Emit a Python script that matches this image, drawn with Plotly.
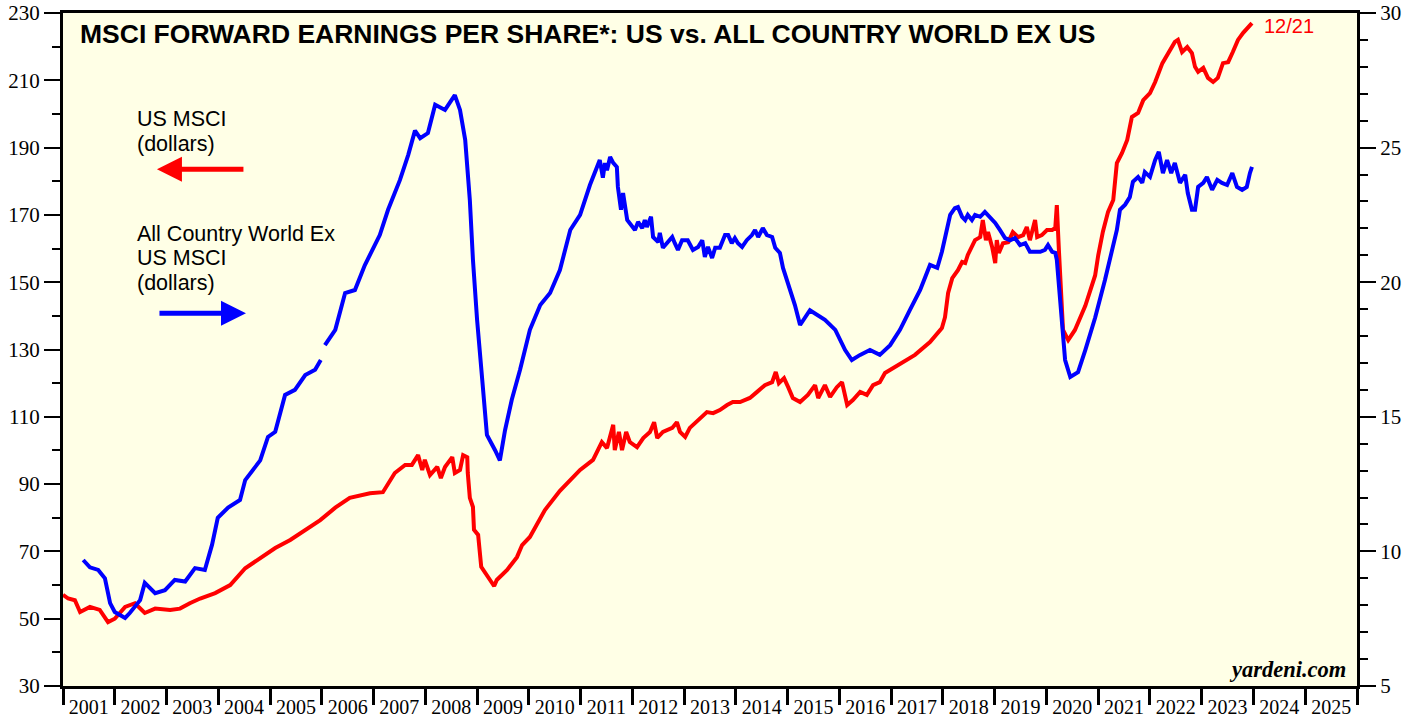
import datetime as dt
import plotly.graph_objects as go

# US MSCI forward EPS (left axis, dollars): decimal year / value
us_year = [2001.00, 2001.10, 2001.23, 2001.33, 2001.52, 2001.71, 2001.87, 2002.00, 2002.20, 2002.39,
           2002.58, 2002.78, 2003.07, 2003.26, 2003.45, 2003.65, 2003.94, 2004.23, 2004.52, 2004.81,
           2005.10, 2005.39, 2005.68, 2005.97, 2006.26, 2006.54, 2006.93, 2007.18, 2007.41, 2007.61,
           2007.74, 2007.86, 2007.94, 2007.99, 2008.09, 2008.23, 2008.30, 2008.38, 2008.52, 2008.57,
           2008.67, 2008.73, 2008.81, 2008.82, 2008.86, 2008.92, 2008.94, 2009.02, 2009.08, 2009.15,
           2009.25, 2009.33, 2009.38, 2009.58, 2009.77, 2009.87, 2010.02, 2010.31, 2010.60, 2010.99,
           2011.24, 2011.41, 2011.51, 2011.63, 2011.66, 2011.74, 2011.80, 2011.88, 2011.95, 2012.09,
           2012.21, 2012.34, 2012.42, 2012.48, 2012.59, 2012.77, 2012.86, 2012.92, 2013.02, 2013.11,
           2013.27, 2013.44, 2013.56, 2013.69, 2013.83, 2013.94, 2014.08, 2014.27, 2014.41, 2014.56,
           2014.70, 2014.77, 2014.83, 2014.93, 2015.01, 2015.10, 2015.24, 2015.39, 2015.53, 2015.59,
           2015.72, 2015.82, 2015.95, 2016.05, 2016.15, 2016.26, 2016.40, 2016.53, 2016.65, 2016.78,
           2016.88, 2017.04, 2017.17, 2017.46, 2017.75, 2017.98, 2018.04, 2018.10, 2018.18, 2018.23,
           2018.29, 2018.37, 2018.43, 2018.48, 2018.56, 2018.62, 2018.72, 2018.77, 2018.83, 2018.87,
           2018.95, 2019.01, 2019.04, 2019.08, 2019.16, 2019.26, 2019.35, 2019.45, 2019.55, 2019.62,
           2019.68, 2019.78, 2019.82, 2019.91, 2020.01, 2020.11, 2020.17, 2020.20, 2020.24, 2020.30,
           2020.32, 2020.42, 2020.55, 2020.75, 2020.94, 2021.00, 2021.09, 2021.19, 2021.29, 2021.36,
           2021.46, 2021.56, 2021.65, 2021.77, 2021.87, 2022.00, 2022.10, 2022.24, 2022.35, 2022.48,
           2022.54, 2022.62, 2022.72, 2022.81, 2022.87, 2022.93, 2023.03, 2023.12, 2023.22, 2023.31,
           2023.41, 2023.51, 2023.60, 2023.70, 2023.80, 2023.89, 2023.97]
us_eps = [57.1, 56.0, 55.5, 52.0, 53.5, 52.6, 49.0, 50.0, 53.5, 54.6,
          51.7, 53.0, 52.6, 53.0, 54.6, 56.0, 57.6, 60.0, 65.0, 68.0,
          71.0, 73.4, 76.4, 79.3, 83.0, 85.9, 87.3, 87.6, 93.3, 95.7,
          95.7, 98.6, 94.2, 97.2, 92.7, 95.1, 91.8, 95.1, 98.0, 93.3,
          94.2, 98.6, 98.0, 93.3, 85.9, 83.2, 76.4, 74.9, 65.4, 63.6,
          61.5, 59.7, 61.5, 64.5, 68.3, 71.9, 74.3, 82.3, 88.0, 94.2,
          97.2, 102.5, 100.7, 107.6, 100.1, 105.5, 100.1, 105.5, 102.5, 101.0,
          103.7, 105.5, 108.4, 103.7, 105.5, 106.7, 108.4, 105.5, 104.0, 106.7,
          109.0, 111.4, 111.1, 112.0, 113.5, 114.4, 114.4, 115.6, 117.4, 119.4,
          120.3, 123.3, 120.0, 121.5, 118.8, 115.6, 114.4, 116.5, 119.4, 115.6,
          119.4, 115.9, 118.8, 120.3, 113.5, 115.0, 117.4, 116.5, 119.4, 120.3,
          123.0, 124.5, 125.4, 128.4, 132.2, 136.4, 139.6, 146.8, 151.2, 152.1,
          153.6, 156.0, 155.7, 158.1, 160.5, 162.5, 163.4, 168.5, 162.5, 164.9,
          160.5, 155.7, 162.5, 158.7, 161.6, 161.9, 164.9, 163.4, 164.0, 166.4,
          162.5, 168.5, 163.4, 164.0, 165.5, 165.5, 166.1, 172.9, 159.6, 144.7,
          135.8, 132.8, 135.8, 143.0, 152.0, 158.0, 165.0, 170.9, 174.4, 185.4,
          188.4, 192.3, 199.1, 200.3, 204.1, 206.2, 209.5, 215.1, 218.1, 221.4,
          222.0, 218.4, 219.9, 218.1, 214.0, 212.5, 213.7, 210.7, 209.5, 210.7,
          215.1, 215.4, 218.4, 222.0, 224.1, 225.5, 227.0]

# All Country World ex US MSCI forward EPS (right axis, dollars); None = data gap
acwx_year = [2001.39, 2001.52, 2001.68, 2001.81, 2001.91, 2002.00, 2002.20, 2002.29, 2002.49, 2002.58,
             2002.78, 2002.97, 2003.16, 2003.36, 2003.55, 2003.74, 2003.88, 2003.99, 2004.19, 2004.42,
             2004.52, 2004.81, 2004.96, 2005.10, 2005.29, 2005.48, 2005.68, 2005.87, 2005.98, 2006.02,
             2006.06, 2006.26, 2006.45, 2006.64, 2006.83, 2006.97, 2007.12, 2007.28, 2007.51, 2007.67,
             2007.80, 2007.90, 2008.05, 2008.19, 2008.38, 2008.57, 2008.67, 2008.77, 2008.86, 2008.92,
             2009.00, 2009.10, 2009.19, 2009.35, 2009.44, 2009.54, 2009.67, 2009.83, 2010.02, 2010.22,
             2010.41, 2010.60, 2010.80, 2010.99, 2011.18, 2011.37, 2011.43, 2011.47, 2011.51, 2011.57,
             2011.63, 2011.70, 2011.72, 2011.78, 2011.82, 2011.90, 2011.99, 2012.05, 2012.11, 2012.19,
             2012.24, 2012.28, 2012.36, 2012.40, 2012.50, 2012.53, 2012.59, 2012.67, 2012.77, 2012.82,
             2012.88, 2012.96, 2013.07, 2013.17, 2013.27, 2013.35, 2013.40, 2013.46, 2013.54, 2013.60,
             2013.69, 2013.79, 2013.85, 2013.92, 2013.98, 2014.04, 2014.12, 2014.21, 2014.31, 2014.37,
             2014.43, 2014.52, 2014.60, 2014.70, 2014.76, 2014.85, 2014.91, 2015.14, 2015.24, 2015.43,
             2015.72, 2015.92, 2016.11, 2016.24, 2016.40, 2016.59, 2016.78, 2016.98, 2017.17, 2017.36,
             2017.56, 2017.75, 2017.89, 2017.98, 2018.08, 2018.14, 2018.23, 2018.29, 2018.37, 2018.43,
             2018.48, 2018.56, 2018.62, 2018.72, 2018.81, 2018.91, 2019.01, 2019.10, 2019.20, 2019.30,
             2019.39, 2019.49, 2019.59, 2019.68, 2019.78, 2019.88, 2019.97, 2020.03, 2020.11, 2020.17,
             2020.20, 2020.26, 2020.36, 2020.46, 2020.61, 2020.75, 2020.94, 2021.13, 2021.36, 2021.42,
             2021.52, 2021.61, 2021.67, 2021.77, 2021.85, 2021.90, 2022.00, 2022.10, 2022.17, 2022.25,
             2022.33, 2022.41, 2022.48, 2022.58, 2022.68, 2022.73, 2022.81, 2022.87, 2022.93, 2023.03,
             2023.10, 2023.20, 2023.30, 2023.39, 2023.49, 2023.59, 2023.68, 2023.78, 2023.87, 2023.93,
             2023.97]
acwx_eps = [9.68, 9.41, 9.31, 9.00, 8.08, 7.75, 7.53, 7.71, 8.19, 8.83,
            8.45, 8.56, 8.94, 8.88, 9.38, 9.31, 10.25, 11.25, 11.63, 11.91,
            12.65, 13.38, 14.25, 14.44, 15.81, 16.00, 16.55, 16.75, 17.11, None,
            17.66, 18.23, 19.60, 19.71, 20.63, 21.20, 21.75, 22.69, 23.80, 24.73,
            25.63, 25.35, 25.54, 26.59, 26.40, 26.95, 26.40, 25.29, 23.05, 20.83,
            18.60, 16.36, 14.33, 13.75, 13.38, 14.50, 15.63, 16.75, 18.23, 19.15,
            19.60, 20.45, 21.94, 22.50, 23.61, 24.54, 23.88, 24.43, 24.16, 24.65,
            24.43, 24.28, 23.54, 22.69, 23.31, 22.31, 22.05, 21.94, 22.24, 22.01,
            22.31, 22.05, 22.43, 21.68, 21.49, 21.83, 21.28, 21.45, 21.68, 21.45,
            21.20, 21.56, 21.56, 21.20, 21.31, 21.56, 20.94, 21.31, 20.90, 21.28,
            21.28, 21.75, 21.75, 21.45, 21.64, 21.45, 21.31, 21.56, 21.75, 21.94,
            21.68, 22.01, 21.75, 21.68, 21.28, 21.09, 20.53, 19.15, 18.41, 18.96,
            18.60, 18.23, 17.48, 17.11, 17.30, 17.48, 17.30, 17.66, 18.23, 18.96,
            19.71, 20.64, 20.53, 21.13, 22.05, 22.50, 22.75, 22.79, 22.43, 22.31,
            22.50, 22.31, 22.50, 22.43, 22.61, 22.39, 22.20, 21.94, 21.64, 21.56,
            21.64, 21.38, 21.45, 21.13, 21.13, 21.13, 21.20, 21.38, 21.13, 21.09,
            20.83, 19.34, 17.11, 16.48, 16.66, 17.48, 18.68, 20.08, 21.94, 22.69,
            22.88, 23.16, 23.73, 23.91, 23.69, 24.09, 23.91, 24.54, 24.84, 24.05,
            24.54, 24.05, 24.43, 23.69, 23.99, 23.31, 22.69, 22.69, 23.54, 23.69,
            23.91, 23.43, 23.80, 23.69, 23.61, 24.05, 23.54, 23.43, 23.54, 24.05,
            24.28]


def to_date(y):
    return dt.datetime(2001, 1, 1) + dt.timedelta(days=(y - 2001) * 365.25)


us_dates = [to_date(y) for y in us_year]
acwx_dates = [to_date(y) for y in acwx_year]

SERIF = "Liberation Serif, Times New Roman, serif"
SANS = "Liberation Sans, Arial, sans-serif"

fig = go.Figure()

fig.add_trace(go.Scatter(
    x=acwx_dates, y=acwx_eps, yaxis="y2", mode="lines",
    line=dict(color="#0000FF", width=4), connectgaps=False, showlegend=False
))
fig.add_trace(go.Scatter(
    x=us_dates, y=us_eps, mode="lines",
    line=dict(color="#FF0000", width=4), showlegend=False
))

fig.update_layout(
    width=1419, height=717,
    margin=dict(l=63, r=62, t=13, b=31),
    paper_bgcolor="white",
    plot_bgcolor="#FFFFE6",
    xaxis=dict(
        type="date", automargin=False,
        range=["2001-01-01", "2026-01-01"],
        tick0="2001-01-01", dtick="M12", tickformat="%Y",
        ticklabelmode="period", ticklabelstandoff=-15, ticklabeloverflow="allow",
        ticks="outside", ticklen=16, tickwidth=3, tickcolor="black",
        showline=True, linewidth=3, linecolor="black", mirror=True,
        showgrid=False, zeroline=False,
        tickfont=dict(family=SERIF, size=20, color="black"),
    ),
    yaxis=dict(
        automargin=False, ticklabeloverflow="allow",
        range=[30, 230], tick0=30, dtick=20,
        ticks="outside", ticklen=16, tickwidth=2, tickcolor="black",
        minor=dict(dtick=10, ticks="outside", ticklen=8, tickwidth=2, tickcolor="black"),
        showline=True, linewidth=3, linecolor="black",
        showgrid=False, zeroline=False,
        tickfont=dict(family=SERIF, size=21, color="black"),
    ),
    yaxis2=dict(
        automargin=False, ticklabeloverflow="allow",
        range=[5, 30], tick0=5, dtick=5, overlaying="y", side="right",
        ticks="outside", ticklen=16, tickwidth=2, tickcolor="black",
        minor=dict(dtick=1, ticks="outside", ticklen=8, tickwidth=2, tickcolor="black"),
        showline=True, linewidth=3, linecolor="black",
        showgrid=False, zeroline=False,
        tickfont=dict(family=SERIF, size=21, color="black"),
    ),
)

fig.add_annotation(
    text="<b>MSCI FORWARD EARNINGS PER SHARE*: US vs. ALL COUNTRY WORLD EX US</b>",
    xref="paper", yref="paper", x=0.0116, y=0.9695, xanchor="left", yanchor="middle",
    showarrow=False, font=dict(family=SANS, size=26.5, color="black")
)
fig.add_annotation(
    text="12/21", xref="paper", yref="paper", x=0.9265, y=0.981,
    xanchor="left", yanchor="middle", showarrow=False,
    font=dict(family=SANS, size=20, color="#FF0000")
)

# series labels, one line each
label_lines = [("US MSCI", 0.843), ("(dollars)", 0.806),
               ("All Country World Ex", 0.672), ("US MSCI", 0.636), ("(dollars)", 0.599)]
for txt, yy in label_lines:
    fig.add_annotation(
        text=txt, xref="paper", yref="paper", x=0.0556, y=yy,
        xanchor="left", yanchor="middle", showarrow=False,
        font=dict(family=SANS, size=21.5, color="black")
    )

# direction arrows
fig.add_annotation(
    text="", xref="paper", yref="paper", x=0.0726, y=0.768, ax=88, ay=0,
    showarrow=True, arrowhead=2, arrowsize=1, arrowwidth=5, arrowcolor="#FF0000"
)
fig.add_annotation(
    text="", xref="paper", yref="paper", x=0.1414, y=0.554, ax=-88, ay=0,
    showarrow=True, arrowhead=2, arrowsize=1, arrowwidth=5, arrowcolor="#0000FF"
)
fig.add_annotation(
    text="<b><i>yardeni.com</i></b>", xref="paper", yref="paper", x=0.993, y=0.0238,
    xanchor="right", yanchor="middle", showarrow=False,
    font=dict(family=SERIF, size=22.5, color="black")
)

# drop the default page margin so the figure sits at the window's corner
fig.write_html("out.html", config={"displayModeBar": False},
               post_script="document.body.style.margin='0';")
